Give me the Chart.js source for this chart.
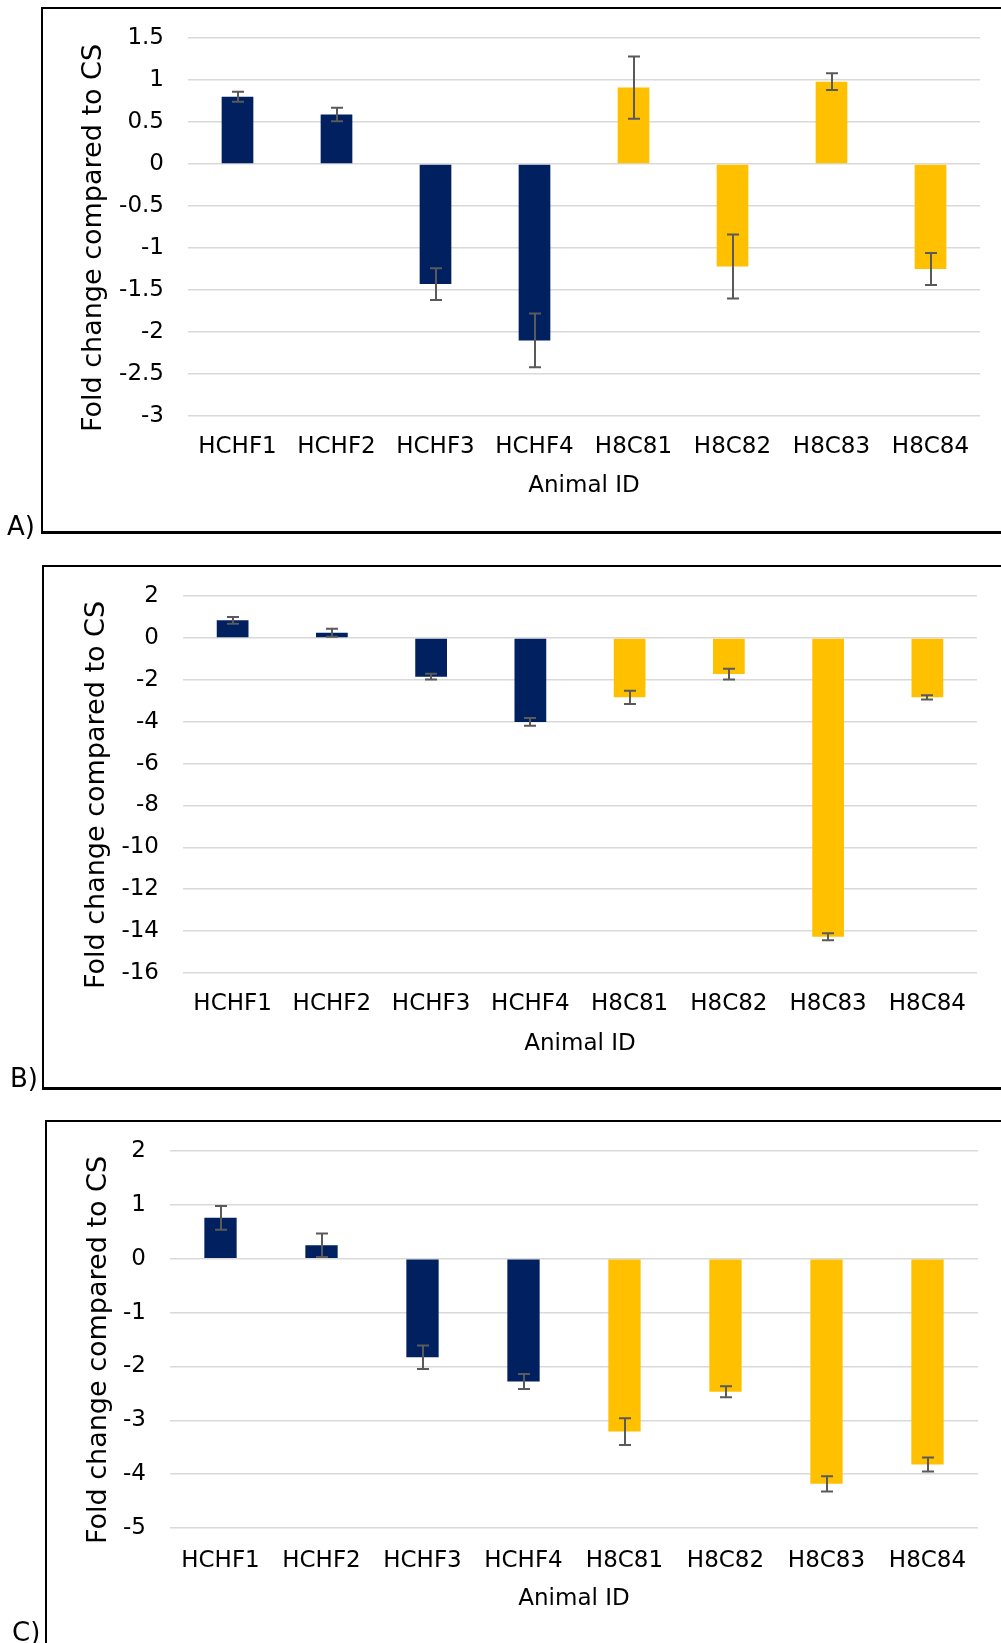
<!DOCTYPE html>
<html>
<head>
<meta charset="utf-8">
<script src="https://cdn.jsdelivr.net/npm/chart.js@4.4.1/dist/chart.umd.min.js"></script>
<style>
  html, body { margin: 0; padding: 0; background: #fff; }
  body { width: 1001px; height: 1643px; position: relative; overflow: hidden; font-family: 'DejaVu Sans', sans-serif; }
  .box { position: absolute; border-left: 2px solid #000; border-top: 2px solid #000; border-bottom: 3px solid #000; width: 1000px; box-sizing: border-box; }
  canvas { position: absolute; left: 0; }
  .tag { position: absolute; font-size: 26px; line-height: 26px; color: #000; transform: translateY(-50%); }
  .ytitle { position: absolute; font-size: 27px; color: #000; white-space: nowrap; transform: translate(-50%, -50%) rotate(-90deg); }
</style>
</head>
<body>
<div class="box" style="left:41px; top:7px; height:527px;"></div>
<div class="box" style="left:42px; top:565px; height:525px;"></div>
<div class="box" style="left:45px; top:1120px; height:560px;"></div>

<canvas id="chartA" width="1001" height="532" style="top:0px"></canvas>
<canvas id="chartB" width="1001" height="532" style="top:558px"></canvas>
<canvas id="chartC" width="1001" height="532" style="top:1113px"></canvas>

<div class="ytitle" style="left:91px; top:238px;">Fold change compared to CS</div>
<div class="ytitle" style="left:94px; top:795px;">Fold change compared to CS</div>
<div class="ytitle" style="left:96px; top:1350px;">Fold change compared to CS</div>

<div class="tag" style="left:7px; top:526px;">A)</div>
<div class="tag" style="left:10px; top:1078px;">B)</div>
<div class="tag" style="left:12px; top:1632px;">C)</div>

<script>
const animals = ['HCHF1', 'HCHF2', 'HCHF3', 'HCHF4', 'H8C81', 'H8C82', 'H8C83', 'H8C84'];

// panel A
const foldA = [0.80, 0.59, -1.43, -2.10, 0.91, -1.22, 0.98, -1.25];
const errA = [0.06, 0.08, 0.19, 0.32, 0.37, 0.38, 0.10, 0.19];
const ticksA = [1.5, 1, 0.5, 0, -0.5, -1, -1.5, -2, -2.5, -3];

// panel B
const foldB = [0.84, 0.25, -1.85, -4.01, -2.84, -1.73, -14.27, -2.84];
const errB = [0.16, 0.19, 0.14, 0.18, 0.32, 0.26, 0.17, 0.10];
const ticksB = [2, 0, -2, -4, -6, -8, -10, -12, -14, -16];

// panel C
const foldC = [0.76, 0.25, -1.83, -2.28, -3.21, -2.47, -4.18, -3.82];
const errC = [0.22, 0.22, 0.22, 0.14, 0.25, 0.10, 0.14, 0.13];
const ticksC = [2, 1, 0, -1, -2, -3, -4, -5];

const NAVY = '#002060';
const GOLD = '#FFC000';
const barColors = animals.map(a => a.startsWith('HCHF') ? NAVY : GOLD);

Chart.defaults.font.family = "'DejaVu Sans', sans-serif";
Chart.defaults.color = '#000';

// draws the error bars from each chart's err array
const errorBars = {
  id: 'errorBars',
  afterDatasetsDraw(chart, args, opts) {
    const ctx = chart.ctx;
    const yScale = chart.scales.y;
    const meta = chart.getDatasetMeta(0);
    const vals = chart.data.datasets[0].data;
    ctx.save();
    ctx.strokeStyle = '#5a5a5a';
    ctx.lineWidth = 2;
    meta.data.forEach((bar, i) => {
      const e = opts.errors[i];
      const yHi = yScale.getPixelForValue(vals[i] + e);
      const yLo = yScale.getPixelForValue(vals[i] - e);
      const x = Math.round(bar.x);
      ctx.beginPath();
      ctx.moveTo(x, yHi);
      ctx.lineTo(x, yLo);
      ctx.moveTo(x - 6, yHi);
      ctx.lineTo(x + 6, yHi);
      ctx.moveTo(x - 6, yLo);
      ctx.lineTo(x + 6, yLo);
      ctx.stroke();
    });
    ctx.restore();
  }
};

function makeChart(id, values, errors, ticks, box) {
  new Chart(document.getElementById(id), {
    type: 'bar',
    data: {
      labels: animals,
      datasets: [{
        data: values,
        backgroundColor: barColors,
        borderWidth: 0,
        barPercentage: 0.32,
        categoryPercentage: 1
      }]
    },
    options: {
      responsive: false,
      animation: false,
      layout: { padding: { left: 0, top: 38, right: box.right, bottom: 0 } },
      plugins: {
        legend: { display: false },
        tooltip: { enabled: false },
        errorBars: { errors: errors }
      },
      scales: {
        x: {
          grid: { display: false, drawTicks: false },
          border: { display: false },
          ticks: { font: { size: 23 }, padding: box.lp, maxRotation: 0, autoSkip: false },
          title: { display: true, text: 'Animal ID', font: { size: 23 }, padding: { top: 0, bottom: 32 } },
          afterFit: s => { s.height = box.xh; }
        },
        y: {
          min: ticks[ticks.length - 1],
          max: ticks[0],
          grid: { color: '#d9d9d9', lineWidth: 1.5, drawTicks: false },
          border: { display: false },
          ticks: { font: { size: 23 }, padding: 24, callback: v => String(v) },
          afterBuildTicks: s => { s.ticks = ticks.map(v => ({ value: v })); },
          afterFit: s => { s.width = box.left; }
        }
      }
    },
    plugins: [errorBars]
  });
}

makeChart('chartA', foldA, errA, ticksA, { right: 21, left: 188, xh: 116, lp: 17 });
makeChart('chartB', foldB, errB, ticksB, { right: 24, left: 183, xh: 117, lp: 17 });
makeChart('chartC', foldC, errC, ticksC, { right: 23, left: 170, xh: 117, lp: 19 });
</script>
</body>
</html>
